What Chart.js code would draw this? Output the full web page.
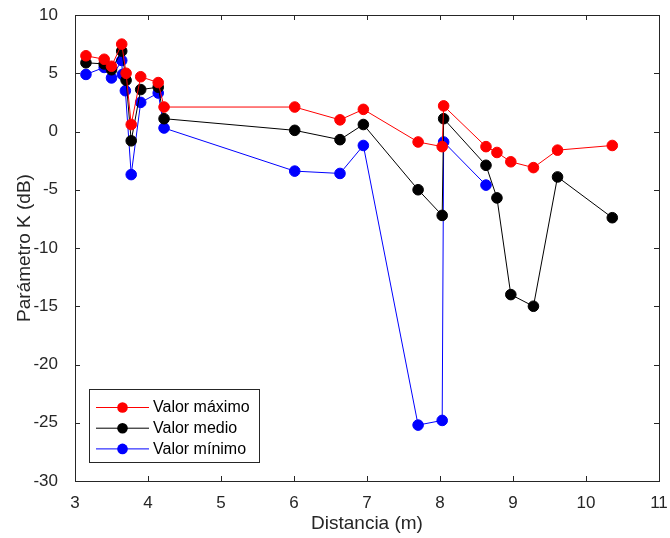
<!DOCTYPE html>
<html>
<head>
<meta charset="utf-8">
<script src="https://cdn.jsdelivr.net/npm/chart.js@4.4.1/dist/chart.umd.min.js"></script>
<style>
  html, body { margin: 0; padding: 0; background: #ffffff; }
  #wrap { width: 670px; height: 538px; position: relative; }
</style>
</head>
<body>
<div id="wrap"><canvas id="c" width="670" height="538"></canvas></div>
<script>
// ---- data ----
const distMax = [3.15, 3.40, 3.50, 3.64, 3.70, 3.77, 3.90, 4.14, 4.22, 6.01, 6.63, 6.95, 7.70, 8.03, 8.05, 8.63, 8.78, 8.97, 9.28, 9.61, 10.36];
const kMax    = [6.5, 6.2, 5.6, 7.5, 5.0, 0.6, 4.7, 4.2, 2.1, 2.1, 1.0, 1.9, -0.9, -1.3, 2.2, -1.3, -1.8, -2.6, -3.1, -1.6, -1.2];

const distMed = [3.15, 3.40, 3.50, 3.64, 3.70, 3.77, 3.90, 4.14, 4.22, 6.01, 6.63, 6.95, 7.70, 8.03, 8.05, 8.63, 8.78, 8.97, 9.28, 9.61, 10.36];
const kMed    = [5.9, 5.8, 5.3, 6.9, 4.4, -0.8, 3.6, 3.8, 1.1, 0.1, -0.7, 0.6, -5.0, -7.2, 1.1, -2.9, -5.7, -14.0, -15.0, -3.9, -7.4];

const distMin = [3.15, 3.40, 3.50, 3.64, 3.65, 3.69, 3.77, 3.90, 4.14, 4.22, 6.01, 6.63, 6.95, 7.70, 8.03, 8.05, 8.63];
const kMin    = [4.9, 5.5, 4.6, 6.1, 4.9, 3.5, -3.7, 2.5, 3.3, 0.3, -3.4, -3.6, -1.2, -25.2, -24.8, -0.9, -4.6];

const seriesLabels = ['Valor máximo', 'Valor medio', 'Valor mínimo'];
const seriesColors = ['#ff0000', '#000000', '#0000ff'];
const xTicks = [3, 4, 5, 6, 7, 8, 9, 10, 11];
const yTicks = [-30, -25, -20, -15, -10, -5, 0, 5, 10];
const xTitle = 'Distancia (m)';
const yTitle = 'Parámetro K (dB)';

// ---- build ----
const FONT = '"Liberation Sans", Arial, Helvetica, sans-serif';
const TXT = '#262626';
function pts(xs, ys) { return xs.map((x, i) => ({ x: x, y: ys[i] })); }
const seriesData = [pts(distMax, kMax), pts(distMed, kMed), pts(distMin, kMin)];

const datasets = seriesData.map((d, i) => ({
  label: seriesLabels[i],
  data: d,
  borderColor: seriesColors[i],
  backgroundColor: seriesColors[i],
  pointBackgroundColor: seriesColors[i],
  pointBorderColor: seriesColors[i],
  borderWidth: 1,
  pointRadius: 5.3,
  pointBorderWidth: 1,
  pointHoverRadius: 5.3,
  tension: 0,
  fill: false,
  showLine: true
}));

const frameTicks = {
  id: 'frameTicks',
  afterDatasetsDraw(chart) {
    const ctx = chart.ctx;
    const a = chart.chartArea;
    const xs = chart.scales.x, ys = chart.scales.y;
    ctx.save();
    ctx.strokeStyle = TXT;
    ctx.lineWidth = 1;
    ctx.beginPath();
    ctx.rect(Math.round(a.left) + 0.5, Math.round(a.top) + 0.5, Math.round(a.right - a.left), Math.round(a.bottom - a.top));
    ctx.stroke();
    const L = 5;
    ctx.beginPath();
    xTicks.forEach(v => {
      const px = Math.round(xs.getPixelForValue(v)) + 0.5;
      ctx.moveTo(px, a.bottom); ctx.lineTo(px, a.bottom - L);
      ctx.moveTo(px, a.top); ctx.lineTo(px, a.top + L);
    });
    yTicks.forEach(v => {
      const py = Math.round(ys.getPixelForValue(v)) + 0.5;
      ctx.moveTo(a.left, py); ctx.lineTo(a.left + L, py);
      ctx.moveTo(a.right, py); ctx.lineTo(a.right - L, py);
    });
    ctx.stroke();
    ctx.restore();
  }
};

const boxLegend = {
  id: 'boxLegend',
  afterDraw(chart) {
    const ctx = chart.ctx;
    const bx = 89, by = 389, bw = 170, bh = 73;
    ctx.save();
    ctx.fillStyle = '#ffffff';
    ctx.fillRect(bx, by, bw, bh);
    ctx.strokeStyle = TXT;
    ctx.lineWidth = 1;
    ctx.strokeRect(bx + 0.5, by + 0.5, bw, bh);
    ctx.font = '16px ' + FONT;
    ctx.textBaseline = 'middle';
    ctx.textAlign = 'left';
    chart.data.datasets.forEach((ds, i) => {
      const yy = by + 18 + i * 20.7;
      ctx.strokeStyle = ds.borderColor;
      ctx.beginPath();
      ctx.moveTo(96, yy + 0.5); ctx.lineTo(149, yy + 0.5);
      ctx.stroke();
      ctx.fillStyle = ds.pointBackgroundColor;
      ctx.beginPath();
      ctx.arc(122.5, yy + 0.5, 5.3, 0, Math.PI * 2);
      ctx.fill();
      ctx.fillStyle = '#000000';
      ctx.fillText(ds.label, 153, yy + 1);
    });
    ctx.restore();
  }
};

new Chart(document.getElementById('c'), {
  type: 'line',
  data: { datasets: datasets },
  options: {
    responsive: false,
    animation: false,
    devicePixelRatio: 1,
    layout: { padding: { top: 15, right: 11, left: 0, bottom: 0 } },
    plugins: {
      legend: { display: false },
      tooltip: { enabled: false }
    },
    scales: {
      x: {
        type: 'linear',
        min: 3, max: 11,
        grid: { display: false },
        border: { display: true, color: TXT, width: 1 },
        afterBuildTicks(scale) { scale.ticks = xTicks.map(v => ({ value: v })); },
        ticks: { autoSkip: false, maxRotation: 0, padding: 4, color: TXT, font: { family: FONT, size: 17 } },
        title: { display: true, text: xTitle, color: TXT, font: { family: FONT, size: 19, lineHeight: 1.2 }, padding: { top: 0, bottom: 3 } },
        afterFit(scale) { scale.height = 57; scale.paddingLeft = 0; scale.paddingRight = 0; }
      },
      y: {
        type: 'linear',
        min: -30, max: 10,
        grid: { display: false },
        border: { display: true, color: TXT, width: 1 },
        afterBuildTicks(scale) { scale.ticks = yTicks.map(v => ({ value: v })); },
        ticks: { autoSkip: false, padding: 9, color: TXT, font: { family: FONT, size: 17 } },
        title: { display: true, text: yTitle, color: TXT, font: { family: FONT, size: 19, lineHeight: 1.2 }, padding: { top: 13, bottom: 0 } },
        afterFit(scale) { scale.width = 75; scale.paddingTop = 0; scale.paddingBottom = 0; }
      }
    }
  },
  plugins: [frameTicks, boxLegend]
});
</script>
</body>
</html>
